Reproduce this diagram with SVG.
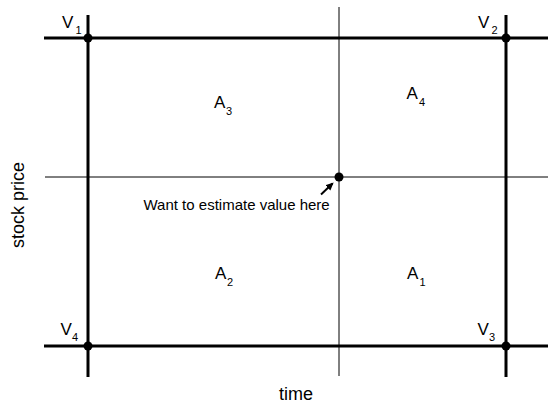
<svg xmlns="http://www.w3.org/2000/svg" width="548" height="406" viewBox="0 0 548 406">
<style>
.thick{stroke:#000;stroke-width:3;fill:none}
.thin{stroke:#000;stroke-width:1;fill:none}
.arrow{stroke:#000;stroke-width:2;fill:none}
.t{font-family:"Liberation Sans",Arial,sans-serif;fill:#000}
.big{font-size:17px}
.sub{font-size:11px}
.lbl{font-size:18px}
.cap{font-size:15px}
.dot{fill:#000}
</style>
<defs>
<marker id="ah" viewBox="0 0 10 10" refX="8" refY="5" markerWidth="4" markerHeight="4" orient="auto" markerUnits="strokeWidth">
<path d="M0,0.5 L10,5 L0,9.5 z" fill="#000"/>
</marker>
</defs>
<rect width="548" height="406" fill="#fff"/>
<g id="connectors">
<line class="thick" x1="44" y1="38" x2="548" y2="38"/>
<line class="thick" x1="44" y1="346" x2="548" y2="346"/>
<line class="thick" x1="88" y1="15" x2="88" y2="377"/>
<line class="thick" x1="506" y1="15" x2="506" y2="377"/>
<line class="thin" x1="339" y1="7" x2="339" y2="376"/>
<line class="thin" x1="45" y1="177" x2="548" y2="177"/>
<line class="arrow" x1="321" y1="194.5" x2="332.5" y2="183.5" marker-end="url(#ah)"/>
</g>
<g id="V1"><circle class="dot" cx="88" cy="38" r="4.5"/><text class="t big" x="62" y="27.5">V</text><text class="t sub" x="75.5" y="34">1</text></g>
<g id="V2"><circle class="dot" cx="506" cy="38" r="4.5"/><text class="t big" x="478" y="27.5">V</text><text class="t sub" x="491.5" y="34">2</text></g>
<g id="V3"><circle class="dot" cx="506" cy="346" r="4.5"/><text class="t big" x="477.5" y="335">V</text><text class="t sub" x="489" y="341">3</text></g>
<g id="V4"><circle class="dot" cx="88" cy="346" r="4.5"/><text class="t big" x="60.5" y="335">V</text><text class="t sub" x="72" y="341">4</text></g>
<g id="target"><circle class="dot" cx="339" cy="177" r="4.5"/><text class="t cap" x="143.5" y="210">Want to estimate value here</text></g>
<g id="A1"><text class="t big" x="407" y="279">A</text><text class="t sub" x="419.5" y="286">1</text></g>
<g id="A2"><text class="t big" x="215" y="279">A</text><text class="t sub" x="227" y="286">2</text></g>
<g id="A3"><text class="t big" x="214" y="108">A</text><text class="t sub" x="226" y="115">3</text></g>
<g id="A4"><text class="t big" x="406.5" y="99">A</text><text class="t sub" x="419" y="106">4</text></g>
<g id="axes">
<text class="t lbl" x="296" y="400" text-anchor="middle">time</text>
<text class="t lbl" transform="translate(24,205) rotate(-90)" text-anchor="middle">stock price</text>
</g>
</svg>
